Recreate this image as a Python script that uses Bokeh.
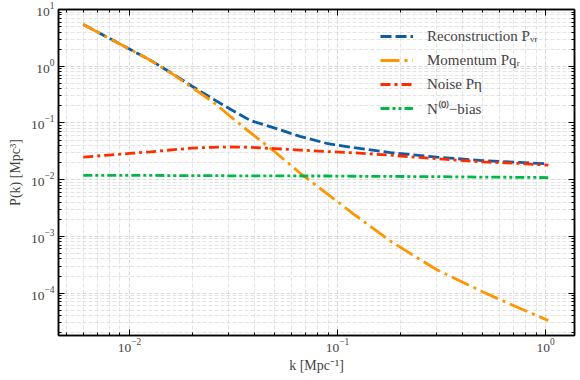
from bokeh.plotting import figure
from bokeh.models import Range1d, FixedTicker, LogAxis, LogTickFormatter, Legend, LegendItem
from bokeh.embed import file_html
from bokeh.resources import INLINE

# ---- data ----
k = [0.006, 0.008, 0.01, 0.0126, 0.016, 0.02, 0.025, 0.03, 0.038, 0.05,
     0.066, 0.09, 0.12, 0.18, 0.3, 0.5, 0.75, 1.03]
recon = [5.45, 3.1, 2.01, 1.28, 0.75, 0.443, 0.27, 0.182, 0.111, 0.081,
         0.058, 0.043, 0.0367, 0.030, 0.0249, 0.0217, 0.0202, 0.019]
momentum = [5.45, 3.1, 2.01, 1.27, 0.74, 0.42, 0.24, 0.138, 0.068, 0.031,
            0.0131, 0.0055, 0.00245, 0.00082, 0.000258, 0.000105, 0.000054, 0.000033]
noise = [0.025, 0.0272, 0.029, 0.031, 0.0336, 0.036, 0.0372, 0.0377, 0.0372, 0.0353,
         0.0332, 0.0313, 0.0298, 0.027, 0.0234, 0.0206, 0.0193, 0.018]
n0bias = [0.0119, 0.0119, 0.0119, 0.0119, 0.0118, 0.0118, 0.0118, 0.0117, 0.0117, 0.0117,
          0.0116, 0.0116, 0.0115, 0.0114, 0.0113, 0.0111, 0.0110, 0.0109]

labels = ["Reconstruction P\u1d65\u1d63", "Momentum Pq\u1d63", "Noise P\u03b7", "N\u207d\u2070\u207e\u2212bias"]
colors = ["#0C5DA5", "#FF9500", "#FF2C00", "#00B945"]
dashes = ["11 4", "19 5 3 5", "10 4 3 4", "9 3 3 3 3 3"]

x_major = [1e-2, 1e-1, 1e0]
y_major = [1e-4, 1e-3, 1e-2, 1e-1, 1e0, 1e1]

FONT = "Liberation Serif"

p = figure(width=580, height=380, x_axis_type="log", y_axis_type="log",
           x_range=Range1d(0.00456, 1.377), y_range=Range1d(1.79e-5, 10),
           output_backend="svg", toolbar_location=None,
           min_border_left=58, min_border_right=6, min_border_top=9, min_border_bottom=45)

def minors(lo_exp, hi_exp):
    out = []
    for e in range(lo_exp, hi_exp + 1):
        for m in range(2, 10):
            out.append(m * 10.0 ** e)
    return out

xt = FixedTicker(ticks=x_major, minor_ticks=minors(-3, -1))
yt = FixedTicker(ticks=y_major, minor_ticks=minors(-5, 0))

renderers = []
for ys, c, d in zip([recon, momentum, noise, n0bias], colors, dashes):
    r = p.line(k, ys, line_color=c, line_width=2.8, line_dash=d)
    renderers.append(r)

# axes styling
for ax, t in [(p.xaxis[0], xt), (p.yaxis[0], yt)]:
    ax.ticker = t
    ax.formatter = LogTickFormatter()
    ax.major_tick_in = 6
    ax.major_tick_out = 0
    ax.minor_tick_in = 3
    ax.minor_tick_out = 0
    ax.axis_line_width = 1.5
    ax.major_tick_line_width = 1
    ax.minor_tick_line_width = 1
    ax.major_label_text_font = FONT
    ax.major_label_text_font_size = "13.5px"
    ax.axis_label_text_font = FONT
    ax.axis_label_text_font_size = "14px"
    ax.axis_label_text_font_style = "normal"

p.xaxis[0].major_label_standoff = 3
p.xaxis[0].axis_label_standoff = 3
p.yaxis[0].major_label_standoff = 4
p.yaxis[0].axis_label_standoff = 5

p.xaxis[0].axis_label = "k [Mpc\u207b\u00b9]"
p.yaxis[0].axis_label = "P(k) [Mpc\u00b3]"

top = LogAxis(ticker=xt, formatter=LogTickFormatter(), major_label_text_font_size="1px",
              major_label_text_color=None,
              major_tick_in=6, major_tick_out=0, minor_tick_in=3, minor_tick_out=0,
              major_label_standoff=0, axis_line_width=1.5)
right = LogAxis(ticker=yt, formatter=LogTickFormatter(), major_label_text_font_size="1px",
                major_label_text_color=None,
                major_tick_in=6, major_tick_out=0, minor_tick_in=3, minor_tick_out=0,
                major_label_standoff=0, axis_line_width=1.5)
p.add_layout(top, "above")
p.add_layout(right, "right")

# grid
for g, t in [(p.xgrid[0], xt), (p.ygrid[0], yt)]:
    g.ticker = t
    g.grid_line_color = "#cfcfcf"
    g.grid_line_dash = "4 2"
    g.grid_line_width = 0.8
    g.minor_grid_line_color = "#dcdcdc"
    g.minor_grid_line_dash = "4 2"
    g.minor_grid_line_width = 0.8

p.outline_line_color = "black"
p.outline_line_width = 1.5
p.background_fill_color = "white"
p.border_fill_color = "white"

legend = Legend(items=[LegendItem(label=l, renderers=[r]) for l, r in zip(labels, renderers)],
                location=(314, 209), background_fill_alpha=0, border_line_alpha=0,
                label_text_font=FONT, label_text_font_size="15px",
                glyph_width=33, glyph_height=20, label_standoff=14, spacing=4,
                padding=8, margin=0)
p.add_layout(legend)

open("out.html", "w").write(file_html(p, INLINE))
